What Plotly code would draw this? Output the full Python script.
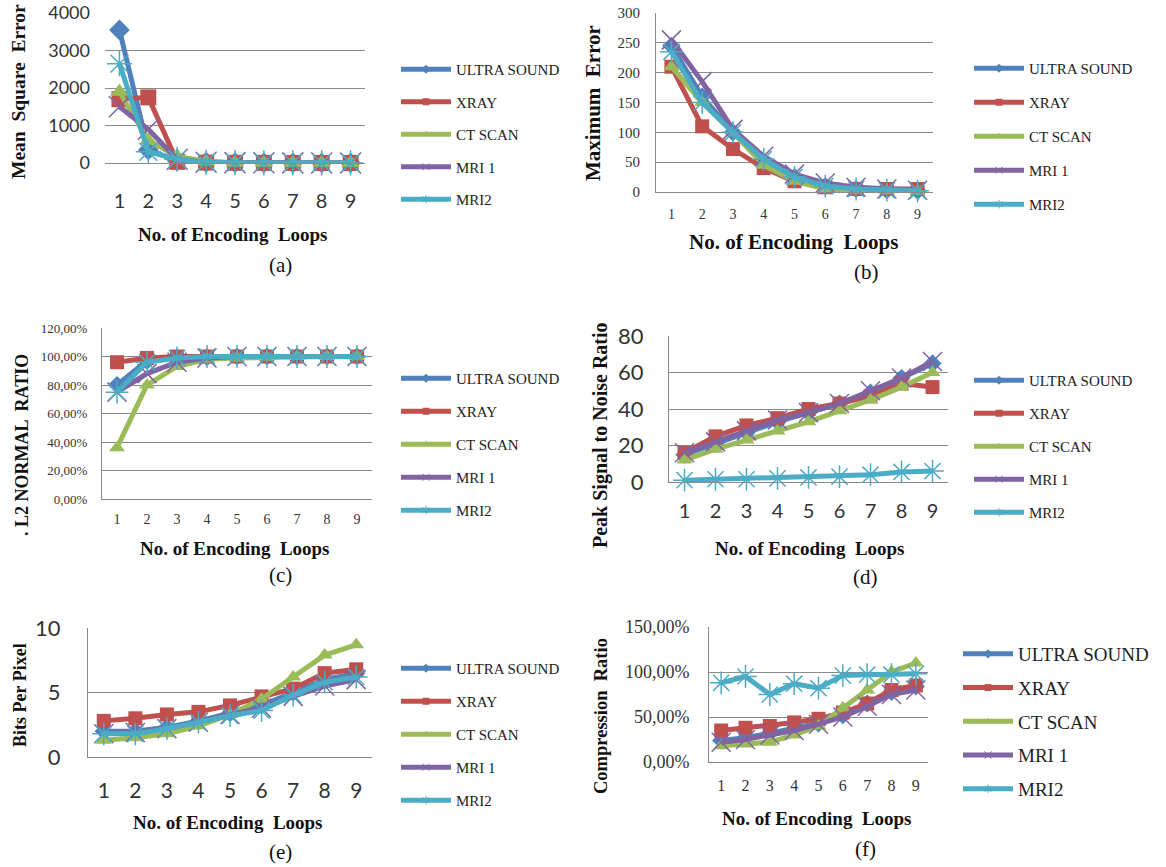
import plotly.graph_objects as go

W, H = 1166, 867

loops = [1, 2, 3, 4, 5, 6, 7, 8, 9]
series_names = ["ULTRA SOUND", "XRAY", "CT SCAN", "MRI 1", "MRI2"]

# (a) Mean Square Error
mse_us = [3550, 350, 60, 20, 10, 5, 3, 2, 1]
mse_xray = [1700, 1750, 30, 10, 5, 3, 2, 1, 1]
mse_ct = [1900, 600, 180, 40, 10, 5, 3, 2, 1]
mse_mri1 = [1500, 900, 100, 20, 10, 5, 3, 2, 1]
mse_mri2 = [2650, 300, 100, 20, 10, 5, 3, 2, 1]

# (b) Maximum Error
me_us = [245, 160, 100, 50, 25, 10, 5, 3, 2]
me_xray = [210, 110, 72, 40, 18, 8, 5, 5, 5]
me_ct = [210, 150, 100, 45, 18, 5, 3, 2, 1]
me_mri1 = [255, 185, 105, 60, 30, 15, 8, 5, 3]
me_mri2 = [235, 150, 100, 55, 25, 10, 5, 3, 2]

# (c) L2 normal ratio (%)
l2_us = [80, 97, 99, 99.5, 100, 100, 100, 100, 100]
l2_xray = [96, 99, 100, 100, 100, 100, 100, 100, 100]
l2_ct = [36, 80, 93, 98, 99, 99.5, 100, 100, 100]
l2_mri1 = [75, 88, 96, 99, 100, 100, 100, 100, 100]
l2_mri2 = [75, 96, 99, 100, 100, 100, 100, 100, 100]
l2_ticks = [0, 20, 40, 60, 80, 100, 120]
l2_ticktext = ["0,00%", "20,00%", "40,00%", "60,00%", "80,00%", "100,00%", "120,00%"]

# (d) PSNR
psnr_us = [15, 21, 27, 33, 38, 43, 49, 57, 65]
psnr_xray = [16, 25, 31, 35, 40, 43, 47, 54, 52]
psnr_ct = [12, 18, 23, 28, 33, 39, 45, 52, 60]
psnr_mri1 = [16, 22, 28, 34, 38, 43, 50, 57, 66]
psnr_mri2 = [1, 1.5, 1.5, 2, 2.5, 3, 4, 5.5, 6]

# (e) Bits per pixel
bpp_us = [2.0, 2.0, 2.3, 2.8, 3.4, 4.0, 5.0, 6.0, 6.5]
bpp_xray = [2.8, 3.0, 3.3, 3.5, 4.0, 4.7, 5.3, 6.5, 6.8]
bpp_ct = [1.3, 1.5, 1.8, 2.4, 3.3, 4.5, 6.2, 7.9, 8.7]
bpp_mri1 = [1.8, 1.9, 2.2, 2.7, 3.3, 3.8, 4.7, 5.5, 6.0]
bpp_mri2 = [1.8, 1.8, 2.2, 2.7, 3.2, 3.6, 4.8, 5.8, 6.2]

# (f) Compression ratio (%)
cr_us = [24, 27, 32, 37, 43, 52, 65, 78, 84]
cr_xray = [35, 38, 40, 44, 48, 55, 65, 80, 85]
cr_ct = [18, 20, 22, 30, 40, 60, 80, 100, 110]
cr_mri1 = [22, 25, 30, 35, 42, 50, 62, 75, 80]
cr_mri2 = [88, 95, 75, 87, 82, 96, 97, 97, 98]
cr_ticks = [0, 50, 100, 150]
cr_ticktext = ["0,00%", "50,00%", "100,00%", "150,00%"]

colors = ["#4F81BD", "#C0504D", "#9BBB59", "#8064A2", "#4BACC6"]
symbols = ["diamond", "square", "triangle-up", "x-thin", "asterisk"]

SERIF = "Liberation Serif"
SANS = "Lato"
GRID = "#8a8a8a"


def px(x):
    return x / W


def py(y):
    return 1 - y / H


fig = go.Figure()

panels = [
    dict(data=[mse_us, mse_xray, mse_ct, mse_mri1, mse_mri2], x0=105, x1=365, y0=13, y1=163,
         yr=[0, 4000], tv=[0, 1000, 2000, 3000, 4000], tt=None, yfont=(SANS, 18), xfont=(SANS, 20),
         ysoff=14, xlen=20, yline=False, msize=16, lw=5,
         ytitle="Mean  Square  Error", ytx=18, yty=92, ytsize=19.5,
         xtitle="No. of Encoding  Loops", xtx=233, xty=234, xtsize=19,
         lab="(a)", lx=280, ly=265,
         leg=dict(x=396, y=53, size=15, gap=10)),
    dict(data=[me_us, me_xray, me_ct, me_mri1, me_mri2], x0=656, x1=933, y0=13, y1=192,
         yr=[0, 300], tv=[0, 50, 100, 150, 200, 250, 300], tt=None, yfont=(SERIF, 15), xfont=(SERIF, 14),
         ysoff=12, xlen=9, yline=True, msize=14, lw=5,
         ytitle="Maximum  Error", ytx=593, yty=103, ytsize=21,
         xtitle="No. of Encoding  Loops", xtx=793, xty=242, xtsize=21,
         lab="(b)", lx=866, ly=272,
         leg=dict(x=969, y=52, size=15, gap=11.5)),
    dict(data=[l2_us, l2_xray, l2_ct, l2_mri1, l2_mri2], x0=102, x1=372, y0=328, y1=499,
         yr=[0, 120], tv=l2_ticks, tt=l2_ticktext, yfont=(SERIF, 13), xfont=(SERIF, 14),
         ysoff=11, xlen=7, yline=True, msize=14, lw=5,
         ytitle=". L2 NORMAL  RATIO", ytx=22, yty=445, ytsize=18,
         xtitle="No. of Encoding  Loops", xtx=235, xty=548, xtsize=19,
         lab="(c)", lx=280, ly=575,
         leg=dict(x=396, y=362, size=15, gap=10.5)),
    dict(data=[psnr_us, psnr_xray, psnr_ct, psnr_mri1, psnr_mri2], x0=669, x1=948, y0=336, y1=482,
         yr=[0, 80], tv=[0, 20, 40, 60, 80], tt=None, yfont=(SANS, 22), xfont=(SANS, 20),
         ysoff=20, xlen=11, yline=True, msize=14, lw=5,
         ytitle="Peak Signal to Noise Ratio", ytx=600, yty=435, ytsize=20,
         xtitle="No. of Encoding  Loops", xtx=810, xty=548, xtsize=19,
         lab="(d)", lx=865, ly=577,
         leg=dict(x=969, y=364, size=15, gap=10.5)),
    dict(data=[bpp_us, bpp_xray, bpp_ct, bpp_mri1, bpp_mri2], x0=88, x1=372, y0=628, y1=757,
         yr=[0, 10], tv=[0, 5, 10], tt=None, yfont=(SANS, 22), xfont=(SANS, 21),
         ysoff=22, xlen=15, yline=True, msize=14, lw=5,
         ytitle="Bits Per Pixel", ytx=20, yty=695, ytsize=18,
         xtitle="No. of Encoding  Loops", xtx=228, xty=822, xtsize=19,
         lab="(e)", lx=280, ly=852,
         leg=dict(x=396, y=652, size=15, gap=10.5)),
    dict(data=[cr_us, cr_xray, cr_ct, cr_mri1, cr_mri2], x0=709, x1=928, y0=627, y1=762,
         yr=[0, 150], tv=cr_ticks, tt=cr_ticktext, yfont=(SERIF, 18), xfont=(SERIF, 16),
         ysoff=15, xlen=9, yline=True, msize=14, lw=5,
         ytitle="Compression  Ratio", ytx=601, yty=716, ytsize=18.5,
         xtitle="No. of Encoding  Loops", xtx=817, xty=818, xtsize=19,
         lab="(f)", lx=865, ly=849,
         leg=dict(x=958, y=635, size=19, gap=6)),
]

layout = dict(
    width=W, height=H, margin=dict(l=0, r=0, t=0, b=0, pad=0, autoexpand=False),
    paper_bgcolor="white", plot_bgcolor="white",
    showlegend=True, annotations=[],
)

for i, p in enumerate(panels):
    n = i + 1
    xa = "xaxis" if n == 1 else f"xaxis{n}"
    ya = "yaxis" if n == 1 else f"yaxis{n}"
    xref = "x" if n == 1 else f"x{n}"
    yref = "y" if n == 1 else f"y{n}"
    legname = "legend" if n == 1 else f"legend{n}"

    for j, vals in enumerate(p["data"]):
        thin = symbols[j] in ("x-thin", "asterisk")
        fig.add_trace(go.Scatter(
            x=loops, y=vals, name=series_names[j],
            mode="lines+markers", xaxis=xref, yaxis=yref, showlegend=False,
            line=dict(color=colors[j], width=p["lw"]),
            marker=dict(symbol=symbols[j], size=p["msize"] + (5 if thin else 0), color=colors[j],
                        line=dict(color=colors[j], width=1.5 if thin else 0)),
            cliponaxis=False,
        ))
    # legend entries (small markers as in the original)
    for j in range(len(series_names)):
        thin = symbols[j] in ("x-thin", "asterisk")
        fig.add_trace(go.Scatter(
            x=[None], y=[None], name=series_names[j], mode="lines+markers",
            xaxis=xref, yaxis=yref, legend=legname, legendgroup=f"g{n}_{j}",
            line=dict(color=colors[j], width=5),
            marker=dict(symbol=symbols[j], size=7, color=colors[j],
                        line=dict(color=colors[j], width=1 if thin else 0)),
        ))

    layout[xa] = dict(
        domain=[px(p["x0"]), px(p["x1"])], anchor=yref, range=[0.5, 9.5],
        tickvals=loops, showgrid=False, zeroline=False, showline=True, automargin=False,
        linecolor=GRID, linewidth=1, ticks="outside", ticklen=p["xlen"],
        tickcolor="rgba(0,0,0,0)",
        tickfont=dict(family=p["xfont"][0], size=p["xfont"][1], color="#333333"),
    )
    yd = dict(
        domain=[py(p["y1"]), py(p["y0"])], anchor=xref, range=p["yr"], automargin=False,
        tickvals=p["tv"], showgrid=True, gridcolor=GRID, gridwidth=1, zeroline=False,
        showline=p["yline"], linecolor=GRID, linewidth=1, ticks="",
        tickfont=dict(family=p["yfont"][0], size=p["yfont"][1], color="#333333"),
        ticklabelstandoff=p["ysoff"],
    )
    if p["tt"] is not None:
        yd["ticktext"] = p["tt"]
    layout[ya] = yd

    lg = p["leg"]
    layout[legname] = dict(
        x=px(lg["x"]), y=py(lg["y"]), xanchor="left", yanchor="top",
        bgcolor="rgba(0,0,0,0)", font=dict(family=SERIF, size=lg["size"], color="#222222"),
        itemwidth=50, traceorder="grouped", tracegroupgap=lg["gap"],
        itemclick=False, itemdoubleclick=False,
    )

    layout["annotations"] += [
        dict(text=f"<b>{p['ytitle']}</b>", x=px(p["ytx"]), y=py(p["yty"]), xref="paper", yref="paper",
             textangle=-90, showarrow=False, font=dict(family=SERIF, size=p["ytsize"], color="#111111"),
             xanchor="center", yanchor="middle"),
        dict(text=f"<b>{p['xtitle']}</b>", x=px(p["xtx"]), y=py(p["xty"]), xref="paper", yref="paper",
             showarrow=False, font=dict(family=SERIF, size=p["xtsize"], color="#111111"),
             xanchor="center", yanchor="middle"),
        dict(text=p["lab"], x=px(p["lx"]), y=py(p["ly"]), xref="paper", yref="paper",
             showarrow=False, font=dict(family=SERIF, size=21, color="#111111"),
             xanchor="center", yanchor="middle"),
    ]

fig.update_layout(**layout)
fig.write_html("out.html", config={"displayModeBar": False},
               post_script="document.body.style.margin='0';")
